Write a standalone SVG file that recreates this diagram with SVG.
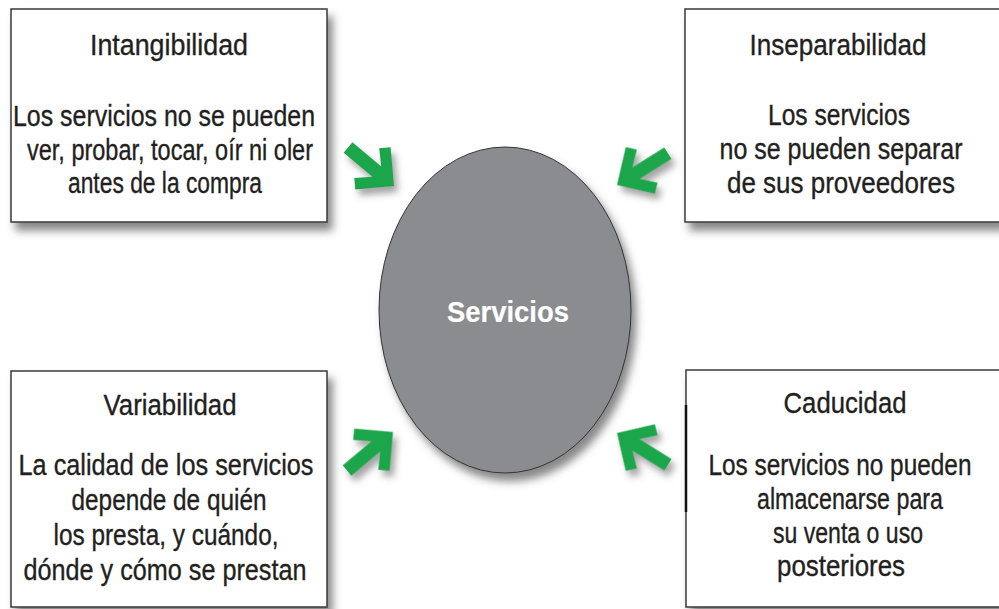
<svg xmlns="http://www.w3.org/2000/svg" xmlns:xlink="http://www.w3.org/1999/xlink" width="999" height="609" viewBox="0 0 999 609">
<defs>
  <filter id="shadow" x="-20%" y="-20%" width="150%" height="150%">
    <feGaussianBlur in="SourceAlpha" stdDeviation="4"/>
    <feOffset dx="5" dy="8" result="b"/>
    <feFlood flood-color="#555" flood-opacity="0.7"/>
    <feComposite in2="b" operator="in" result="s"/>
    <feMerge><feMergeNode in="s"/><feMergeNode in="SourceGraphic"/></feMerge>
  </filter>
  <filter id="ashadow" x="-50%" y="-50%" width="200%" height="200%">
    <feGaussianBlur in="SourceAlpha" stdDeviation="3.5"/>
    <feOffset dx="4" dy="6" result="b"/>
    <feFlood flood-color="#666" flood-opacity="0.6"/>
    <feComposite in2="b" operator="in" result="s"/>
    <feMerge><feMergeNode in="s"/><feMergeNode in="SourceGraphic"/></feMerge>
  </filter>
  <polygon id="arrow" points="0,0 -27.5,-27.5 -35.6,-19.4 -22.4,-6.8 -60,-6.8 -60,6.8 -22.4,6.8 -35.6,19.4 -27.5,27.5"/>
  <style>
    .box { fill: #ffffff; stroke: #3a3a3a; stroke-width: 1.5; filter: url(#shadow); }
    .t { font-family: "Liberation Sans Narrow", "Liberation Sans", Arial, sans-serif; font-size: 29px; fill: #231f20; stroke: #231f20; stroke-width: 0.35; text-anchor: middle; }
    .arr { fill: #1ba64b; }
  </style>
</defs>
<rect width="999" height="609" fill="#ffffff"/>

<g id="servicios">
  <ellipse cx="505" cy="310" rx="126" ry="163" fill="#8b8c90" stroke="#333" stroke-width="1" filter="url(#shadow)"/>
  <text x="508" y="322" class="t" style="fill:#ffffff;stroke:#ffffff;stroke-width:0.2;font-weight:bold" textLength="122" lengthAdjust="spacingAndGlyphs">Servicios</text>
</g>

<g id="intangibilidad">
  <rect class="box" x="11" y="9" width="316" height="213"/>
  <text class="t" x="169" y="55" textLength="158" lengthAdjust="spacingAndGlyphs">Intangibilidad</text>
  <text class="t" x="164" y="126" textLength="302" lengthAdjust="spacingAndGlyphs">Los servicios no se pueden</text>
  <text class="t" x="170" y="160" textLength="286" lengthAdjust="spacingAndGlyphs">ver, probar, tocar, oír ni oler</text>
  <text class="t" x="165" y="193" textLength="194" lengthAdjust="spacingAndGlyphs">antes de la compra</text>
</g>

<g id="inseparabilidad">
  <rect class="box" x="685" y="9" width="316" height="213"/>
  <text class="t" x="838" y="55" textLength="177" lengthAdjust="spacingAndGlyphs">Inseparabilidad</text>
  <text class="t" x="839" y="125" textLength="142" lengthAdjust="spacingAndGlyphs">Los servicios</text>
  <text class="t" x="841" y="159" textLength="243" lengthAdjust="spacingAndGlyphs">no se pueden separar</text>
  <text class="t" x="841" y="193" textLength="228" lengthAdjust="spacingAndGlyphs">de sus proveedores</text>
</g>

<g id="variabilidad">
  <rect class="box" x="11" y="371" width="316" height="236"/>
  <text class="t" x="170" y="415" textLength="133" lengthAdjust="spacingAndGlyphs">Variabilidad</text>
  <text class="t" x="166" y="475" textLength="295" lengthAdjust="spacingAndGlyphs">La calidad de los servicios</text>
  <text class="t" x="169" y="510" textLength="195" lengthAdjust="spacingAndGlyphs">depende de quién</text>
  <text class="t" x="166" y="545" textLength="225" lengthAdjust="spacingAndGlyphs">los presta, y cuándo,</text>
  <text class="t" x="165" y="580" textLength="283" lengthAdjust="spacingAndGlyphs">dónde y cómo se prestan</text>
</g>

<g id="caducidad">
  <rect class="box" x="686" y="370" width="316" height="237"/>
  <line x1="686" y1="405" x2="686" y2="512" stroke="#111" stroke-width="2.5"/>
  <text class="t" x="845" y="413" textLength="123" lengthAdjust="spacingAndGlyphs">Caducidad</text>
  <text class="t" x="840" y="475" textLength="263" lengthAdjust="spacingAndGlyphs">Los servicios no pueden</text>
  <text class="t" x="850" y="509" textLength="186" lengthAdjust="spacingAndGlyphs">almacenarse para</text>
  <text class="t" x="848" y="543" textLength="150" lengthAdjust="spacingAndGlyphs">su venta o uso</text>
  <text class="t" x="841" y="576" textLength="128" lengthAdjust="spacingAndGlyphs">posteriores</text>
</g>

<g id="connectors" filter="url(#ashadow)">
  <use xlink:href="#arrow" class="arr" transform="translate(394,186) rotate(40)"/>
  <use xlink:href="#arrow" class="arr" transform="translate(617,185) rotate(148)"/>
  <use xlink:href="#arrow" class="arr" transform="translate(393,432) rotate(-40)"/>
  <use xlink:href="#arrow" class="arr" transform="translate(617,433) rotate(212)"/>
</g>
</svg>
